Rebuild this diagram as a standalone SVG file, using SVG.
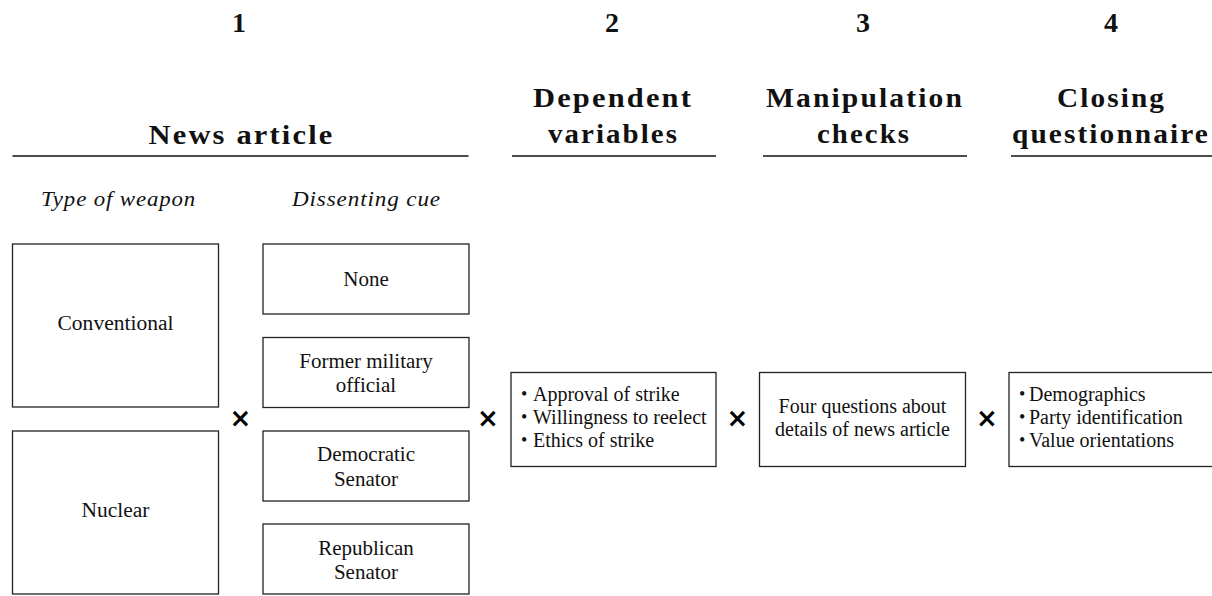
<svg xmlns="http://www.w3.org/2000/svg" width="1212" height="596" viewBox="0 0 1212 596">
  <style>
    .num { font-family: "Liberation Serif", "Times New Roman", serif; font-weight: bold; font-size: 28px; fill: #111; text-anchor: middle; }
    .head { font-family: "Liberation Serif", "Times New Roman", serif; font-weight: bold; font-size: 28px; letter-spacing: 2px; fill: #111; text-anchor: middle; }
    .rule { stroke: #111; stroke-width: 1.5; fill: none; }
    .sub { font-family: "Liberation Serif", "Times New Roman", serif; font-style: italic; font-size: 21px; letter-spacing: 0.8px; fill: #111; text-anchor: middle; }
    .box { fill: #fff; stroke: #222; stroke-width: 1.3; }
    .lbl { font-family: "Liberation Serif", "Times New Roman", serif; font-size: 20px; fill: #111; text-anchor: middle; }
    .cue { font-family: "Liberation Serif", "Times New Roman", serif; font-size: 21px; fill: #111; text-anchor: middle; }
    .lst { font-family: "Liberation Serif", "Times New Roman", serif; font-size: 20px; fill: #111; }
    .dot { font-family: "Liberation Serif", "Times New Roman", serif; font-size: 18px; fill: #111; }
    .op { font-family: "DejaVu Sans", "Liberation Sans", sans-serif; font-weight: bold; font-size: 26px; fill: #000; text-anchor: middle; }
  </style>

  <g id="headers">
    <text class="num" x="239" y="32">1</text>
    <text class="num" x="612" y="32">2</text>
    <text class="num" x="863" y="32">3</text>
    <text class="num" x="1111" y="32">4</text>

    <text class="head" x="241.5" y="144" textLength="186" lengthAdjust="spacingAndGlyphs">News article</text>
    <text class="head" x="613" y="107" textLength="160" lengthAdjust="spacingAndGlyphs">Dependent</text>
    <text class="head" x="613.5" y="143" textLength="131" lengthAdjust="spacingAndGlyphs">variables</text>
    <text class="head" x="865" y="107" textLength="198" lengthAdjust="spacingAndGlyphs">Manipulation</text>
    <text class="head" x="864" y="143" textLength="94" lengthAdjust="spacingAndGlyphs">checks</text>
    <text class="head" x="1111.5" y="107" textLength="109" lengthAdjust="spacingAndGlyphs">Closing</text>
    <text class="head" x="1111" y="143" textLength="198" lengthAdjust="spacingAndGlyphs">questionnaire</text>

    <line class="rule" x1="12.5" y1="156" x2="468.5" y2="156"/>
    <line class="rule" x1="512" y1="156" x2="716" y2="156"/>
    <line class="rule" x1="763" y1="156" x2="967" y2="156"/>
    <line class="rule" x1="1011" y1="156" x2="1212" y2="156"/>

    <text class="sub" x="118.5" y="206" textLength="155" lengthAdjust="spacingAndGlyphs">Type of weapon</text>
    <text class="sub" x="366.5" y="206" textLength="149" lengthAdjust="spacingAndGlyphs">Dissenting cue</text>
  </g>

  <g id="conventional">
    <rect class="box" x="12.5" y="244" width="206" height="163"/>
    <text class="lbl" x="115.5" y="330" textLength="116" lengthAdjust="spacingAndGlyphs">Conventional</text>
  </g>
  <g id="nuclear">
    <rect class="box" x="12.5" y="431" width="206" height="163"/>
    <text class="lbl" x="115.5" y="517" textLength="68" lengthAdjust="spacingAndGlyphs">Nuclear</text>
  </g>

  <g id="none">
    <rect class="box" x="263" y="244" width="206" height="70"/>
    <text class="cue" x="366" y="286">None</text>
  </g>
  <g id="former-military">
    <rect class="box" x="263" y="337.5" width="206" height="70"/>
    <text class="cue" x="366" y="368">Former military</text>
    <text class="cue" x="366" y="392">official</text>
  </g>
  <g id="democratic-senator">
    <rect class="box" x="263" y="431" width="206" height="70"/>
    <text class="cue" x="366" y="461">Democratic</text>
    <text class="cue" x="366" y="485.5">Senator</text>
  </g>
  <g id="republican-senator">
    <rect class="box" x="263" y="524" width="206" height="70"/>
    <text class="cue" x="366" y="555">Republican</text>
    <text class="cue" x="366" y="579">Senator</text>
  </g>

  <g id="dependent-variables">
    <rect class="box" x="511" y="372.5" width="205" height="94"/>
    <text class="dot" x="521" y="400">•</text>
    <text class="lst" x="533" y="401">Approval of strike</text>
    <text class="dot" x="521" y="423">•</text>
    <text class="lst" x="533" y="424">Willingness to reelect</text>
    <text class="dot" x="521" y="446">•</text>
    <text class="lst" x="533" y="447">Ethics of strike</text>
  </g>

  <g id="manipulation-checks">
    <rect class="box" x="759.5" y="372.5" width="206" height="94"/>
    <text class="lbl" x="862.5" y="413">Four questions about</text>
    <text class="lbl" x="862.5" y="436">details of news article</text>
  </g>

  <g id="closing-questionnaire">
    <rect class="box" x="1009" y="372.5" width="205" height="94"/>
    <text class="dot" x="1019" y="400">•</text>
    <text class="lst" x="1029" y="401">Demographics</text>
    <text class="dot" x="1019" y="423">•</text>
    <text class="lst" x="1029" y="424">Party identification</text>
    <text class="dot" x="1019" y="446">•</text>
    <text class="lst" x="1029" y="447">Value orientations</text>
  </g>

  <g id="connectors">
    <text class="op" x="240.5" y="427">×</text>
    <text class="op" x="488" y="427">×</text>
    <text class="op" x="737.5" y="427">×</text>
    <text class="op" x="987" y="427">×</text>
  </g>
</svg>
